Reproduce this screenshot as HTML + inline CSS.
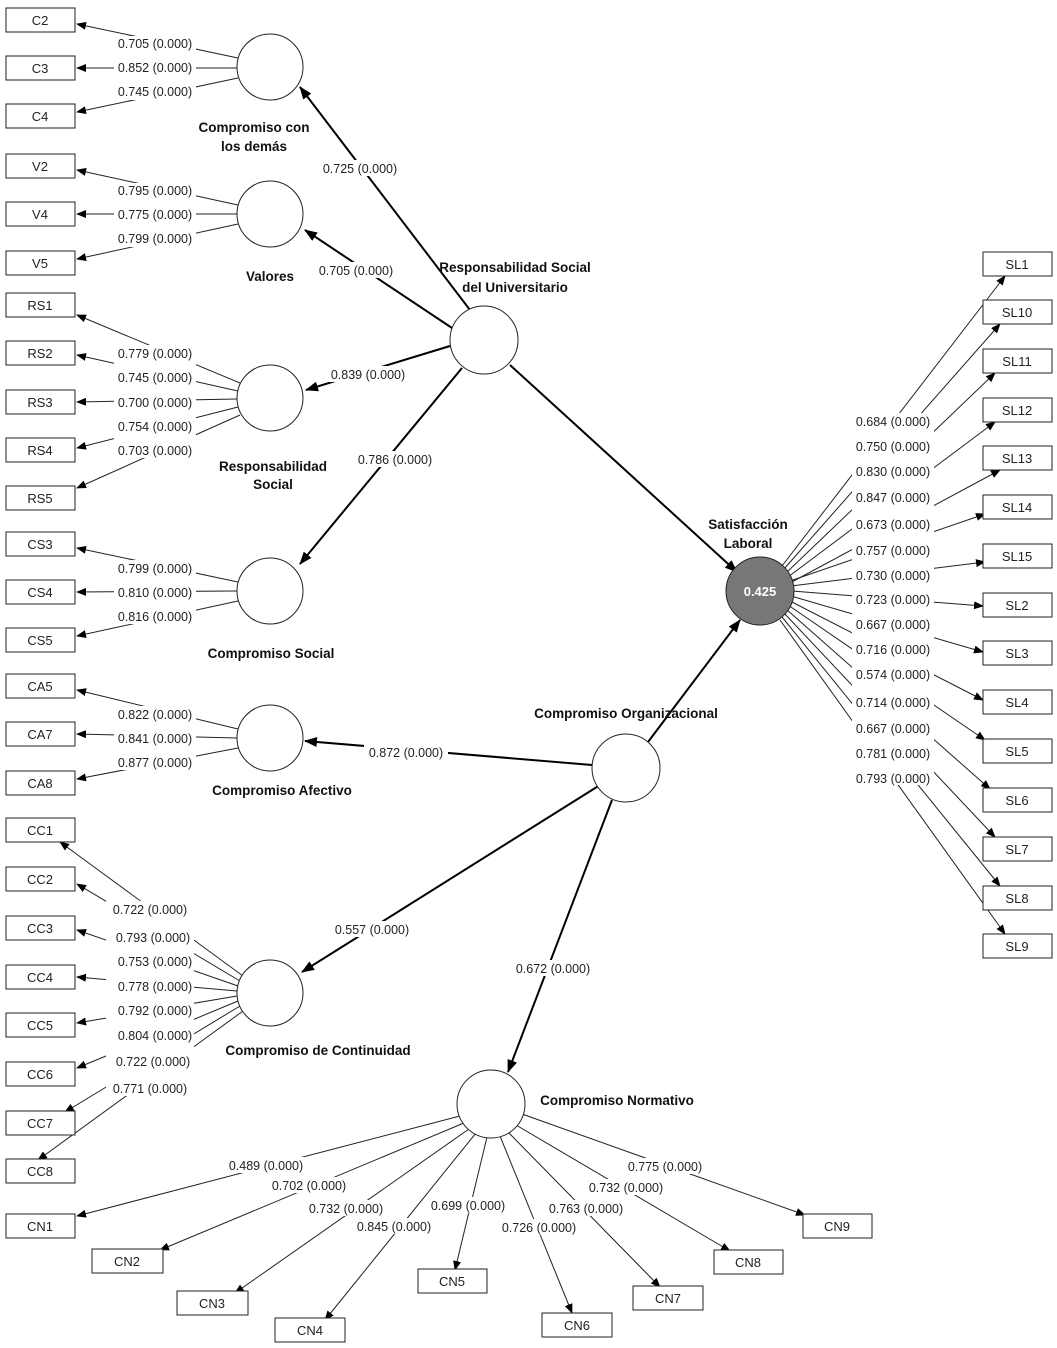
<!DOCTYPE html>
<html><head><meta charset="utf-8"><style>
html,body{margin:0;padding:0;background:#fff;}
svg{display:block;}
text{font-family:"Liberation Sans",sans-serif;}
.n{font-size:12.5px;fill:#222;text-anchor:middle;}
.b{font-size:13.5px;font-weight:bold;fill:#111;text-anchor:middle;}
.bx{font-size:13px;fill:#222;text-anchor:middle;}
</style></head><body>
<svg width="1057" height="1348" viewBox="0 0 1057 1348" xmlns="http://www.w3.org/2000/svg">
<defs>
<marker id="a" markerWidth="10" markerHeight="8" refX="9" refY="4" orient="auto" markerUnits="userSpaceOnUse"><path d="M0,0 L10,4 L0,8 z" fill="#000"/></marker>
<marker id="A" markerWidth="13" markerHeight="10" refX="12" refY="5" orient="auto" markerUnits="userSpaceOnUse"><path d="M0,0 L13,5 L0,10 z" fill="#000"/></marker>
</defs>
<g stroke="#222" stroke-width="1" fill="none" marker-end="url(#a)">
<!-- Compromiso con -->
<line x1="238" y1="58" x2="77" y2="24"/><line x1="237" y1="68" x2="77" y2="68"/><line x1="238" y1="78" x2="77" y2="112"/>
<!-- Valores -->
<line x1="238" y1="205" x2="77" y2="170"/><line x1="237" y1="214" x2="77" y2="214"/><line x1="238" y1="224" x2="77" y2="259"/>
<!-- RS -->
<line x1="240" y1="383" x2="77" y2="315"/><line x1="238" y1="391" x2="77" y2="355"/><line x1="237" y1="399" x2="77" y2="402"/><line x1="238" y1="407" x2="77" y2="448"/><line x1="240" y1="415" x2="77" y2="488"/>
<!-- CS -->
<line x1="238" y1="582" x2="77" y2="548"/><line x1="237" y1="591" x2="77" y2="592"/><line x1="238" y1="601" x2="77" y2="636"/>
<!-- CA -->
<line x1="238" y1="729" x2="77" y2="690"/><line x1="237" y1="738" x2="77" y2="734"/><line x1="238" y1="748" x2="77" y2="779"/>
<!-- CC -->
<line x1="243" y1="976" x2="60" y2="842"/><line x1="240" y1="981" x2="77" y2="884"/><line x1="238" y1="986" x2="77" y2="930"/><line x1="237" y1="991" x2="77" y2="977"/><line x1="237" y1="996" x2="77" y2="1023"/><line x1="238" y1="1001" x2="77" y2="1068"/><line x1="240" y1="1006" x2="65" y2="1112"/><line x1="243" y1="1011" x2="38" y2="1160"/>
<!-- SL -->
<line x1="782" y1="566" x2="1005" y2="276"/><line x1="784" y1="569" x2="1000" y2="324"/><line x1="786" y1="573" x2="995" y2="373"/><line x1="788" y1="577" x2="995" y2="422"/><line x1="790" y1="581" x2="985" y2="514"/><line x1="791" y1="586" x2="985" y2="562"/><line x1="792" y1="591" x2="983" y2="606"/><line x1="791" y1="596" x2="983" y2="652"/><line x1="790" y1="601" x2="983" y2="700"/><line x1="788" y1="605" x2="985" y2="740"/><line x1="786" y1="609" x2="990" y2="789"/><line x1="784" y1="613" x2="995" y2="837"/><line x1="782" y1="617" x2="1000" y2="886"/><line x1="780" y1="620" x2="1005" y2="934"/><line x1="790" y1="583" x2="1000" y2="470"/>
<!-- CN -->
<line x1="460" y1="1116" x2="77" y2="1216"/><line x1="464" y1="1123" x2="160" y2="1250"/><line x1="469" y1="1129" x2="235" y2="1293"/><line x1="476" y1="1133" x2="325" y2="1320"/><line x1="487" y1="1137" x2="455" y2="1270"/><line x1="500" y1="1136" x2="572" y2="1313"/><line x1="508" y1="1132" x2="660" y2="1287"/><line x1="516" y1="1125" x2="730" y2="1251"/><line x1="522" y1="1114" x2="805" y2="1215"/>
</g>
<g stroke="#000" stroke-width="2" fill="none" marker-end="url(#A)">
<line x1="470" y1="310" x2="300" y2="87"/>
<line x1="452" y1="328" x2="305" y2="230"/>
<line x1="450" y1="346" x2="306" y2="390"/>
<line x1="462" y1="368" x2="300" y2="564"/>
<line x1="510" y1="365" x2="737" y2="572"/>
<line x1="648" y1="742" x2="740" y2="620"/>
<line x1="592" y1="765" x2="305" y2="741"/>
<line x1="600" y1="785" x2="302" y2="972"/>
<line x1="612" y1="800" x2="508" y2="1072"/>
</g>
<!-- circles -->
<g stroke="#222" stroke-width="1" fill="#fff">
<circle cx="270" cy="67" r="33"/><circle cx="270" cy="214" r="33"/><circle cx="270" cy="398" r="33"/><circle cx="270" cy="591" r="33"/><circle cx="270" cy="738" r="33"/><circle cx="270" cy="993" r="33"/><circle cx="484" cy="340" r="34"/><circle cx="626" cy="768" r="34"/><circle cx="491" cy="1104" r="34"/>
<circle cx="760" cy="591" r="34" fill="#777"/>
</g>
<text x="760" y="596" font-size="13" font-weight="bold" fill="#fff" text-anchor="middle" font-family="Liberation Sans">0.425</text>
<!-- boxes -->
<g stroke="#222" stroke-width="1" fill="#fff">
<rect x="6" y="8" width="69" height="24"/><rect x="6" y="56" width="69" height="24"/><rect x="6" y="104" width="69" height="24"/>
<rect x="6" y="154" width="69" height="24"/><rect x="6" y="202" width="69" height="24"/><rect x="6" y="251" width="69" height="24"/>
<rect x="6" y="293" width="69" height="24"/><rect x="6" y="341" width="69" height="24"/><rect x="6" y="390" width="69" height="24"/><rect x="6" y="438" width="69" height="24"/><rect x="6" y="486" width="69" height="24"/>
<rect x="6" y="532" width="69" height="24"/><rect x="6" y="580" width="69" height="24"/><rect x="6" y="628" width="69" height="24"/>
<rect x="6" y="674" width="69" height="24"/><rect x="6" y="722" width="69" height="24"/><rect x="6" y="771" width="69" height="24"/>
<rect x="6" y="818" width="69" height="24"/><rect x="6" y="867" width="69" height="24"/><rect x="6" y="916" width="69" height="24"/><rect x="6" y="965" width="69" height="24"/><rect x="6" y="1013" width="69" height="24"/><rect x="6" y="1062" width="69" height="24"/><rect x="6" y="1111" width="69" height="24"/><rect x="6" y="1159" width="69" height="24"/>
<rect x="983" y="252" width="69" height="24"/><rect x="983" y="300" width="69" height="24"/><rect x="983" y="349" width="69" height="24"/><rect x="983" y="398" width="69" height="24"/><rect x="983" y="446" width="69" height="24"/><rect x="983" y="495" width="69" height="24"/><rect x="983" y="544" width="69" height="24"/><rect x="983" y="593" width="69" height="24"/><rect x="983" y="641" width="69" height="24"/><rect x="983" y="690" width="69" height="24"/><rect x="983" y="739" width="69" height="24"/><rect x="983" y="788" width="69" height="24"/><rect x="983" y="837" width="69" height="24"/><rect x="983" y="886" width="69" height="24"/><rect x="983" y="934" width="69" height="24"/>
<rect x="6" y="1214" width="69" height="24"/><rect x="92" y="1249" width="71" height="24"/><rect x="177" y="1291" width="71" height="24"/><rect x="275" y="1318" width="70" height="24"/><rect x="418" y="1269" width="69" height="24"/><rect x="542" y="1313" width="70" height="24"/><rect x="633" y="1286" width="70" height="24"/><rect x="714" y="1250" width="69" height="24"/><rect x="803" y="1214" width="69" height="24"/>
</g>
<g class="bx">
<text x="40" y="25">C2</text><text x="40" y="73">C3</text><text x="40" y="121">C4</text>
<text x="40" y="171">V2</text><text x="40" y="219">V4</text><text x="40" y="268">V5</text>
<text x="40" y="310">RS1</text><text x="40" y="358">RS2</text><text x="40" y="407">RS3</text><text x="40" y="455">RS4</text><text x="40" y="503">RS5</text>
<text x="40" y="549">CS3</text><text x="40" y="597">CS4</text><text x="40" y="645">CS5</text>
<text x="40" y="691">CA5</text><text x="40" y="739">CA7</text><text x="40" y="788">CA8</text>
<text x="40" y="835">CC1</text><text x="40" y="884">CC2</text><text x="40" y="933">CC3</text><text x="40" y="982">CC4</text><text x="40" y="1030">CC5</text><text x="40" y="1079">CC6</text><text x="40" y="1128">CC7</text><text x="40" y="1176">CC8</text>
<text x="1017" y="269">SL1</text><text x="1017" y="317">SL10</text><text x="1017" y="366">SL11</text><text x="1017" y="415">SL12</text><text x="1017" y="463">SL13</text><text x="1017" y="512">SL14</text><text x="1017" y="561">SL15</text><text x="1017" y="610">SL2</text><text x="1017" y="658">SL3</text><text x="1017" y="707">SL4</text><text x="1017" y="756">SL5</text><text x="1017" y="805">SL6</text><text x="1017" y="854">SL7</text><text x="1017" y="903">SL8</text><text x="1017" y="951">SL9</text>
<text x="40" y="1231">CN1</text><text x="127" y="1266">CN2</text><text x="212" y="1308">CN3</text><text x="310" y="1335">CN4</text><text x="452" y="1286">CN5</text><text x="577" y="1330">CN6</text><text x="668" y="1303">CN7</text><text x="748" y="1267">CN8</text><text x="837" y="1231">CN9</text>
</g>
<!-- label backgrounds -->
<g fill="#fff">
<rect x="114" y="36" width="82" height="64"/><rect x="114" y="183" width="82" height="64"/><rect x="114" y="345" width="82" height="113"/><rect x="114" y="560" width="82" height="64"/><rect x="114" y="706" width="82" height="64"/><rect x="106" y="901" width="88" height="195"/>
<rect x="852" y="413" width="82" height="372"/>
<rect x="318" y="160" width="84" height="16"/><rect x="314" y="262" width="84" height="16"/><rect x="326" y="366" width="84" height="16"/><rect x="353" y="451" width="84" height="16"/><rect x="364" y="744" width="84" height="16"/><rect x="330" y="921" width="84" height="16"/><rect x="511" y="960" width="84" height="16"/>
<rect x="224" y="1157" width="84" height="16"/><rect x="267" y="1177" width="84" height="16"/><rect x="304" y="1200" width="84" height="16"/><rect x="352" y="1218" width="84" height="16"/><rect x="426" y="1197" width="84" height="16"/><rect x="497" y="1219" width="84" height="16"/><rect x="544" y="1200" width="84" height="16"/><rect x="584" y="1179" width="84" height="16"/><rect x="623" y="1158" width="84" height="16"/>
</g>
<g class="n">
<text x="155" y="48">0.705 (0.000)</text><text x="155" y="72">0.852 (0.000)</text><text x="155" y="96">0.745 (0.000)</text>
<text x="155" y="195">0.795 (0.000)</text><text x="155" y="219">0.775 (0.000)</text><text x="155" y="243">0.799 (0.000)</text>
<text x="155" y="358">0.779 (0.000)</text><text x="155" y="382">0.745 (0.000)</text><text x="155" y="407">0.700 (0.000)</text><text x="155" y="431">0.754 (0.000)</text><text x="155" y="455">0.703 (0.000)</text>
<text x="155" y="573">0.799 (0.000)</text><text x="155" y="597">0.810 (0.000)</text><text x="155" y="621">0.816 (0.000)</text>
<text x="155" y="719">0.822 (0.000)</text><text x="155" y="743">0.841 (0.000)</text><text x="155" y="767">0.877 (0.000)</text>
<text x="150" y="914">0.722 (0.000)</text><text x="153" y="942">0.793 (0.000)</text><text x="155" y="966">0.753 (0.000)</text><text x="155" y="991">0.778 (0.000)</text><text x="155" y="1015">0.792 (0.000)</text><text x="155" y="1040">0.804 (0.000)</text><text x="153" y="1066">0.722 (0.000)</text><text x="150" y="1093">0.771 (0.000)</text>
<text x="893" y="426">0.684 (0.000)</text><text x="893" y="451">0.750 (0.000)</text><text x="893" y="476">0.830 (0.000)</text><text x="893" y="502">0.847 (0.000)</text><text x="893" y="529">0.673 (0.000)</text><text x="893" y="555">0.757 (0.000)</text><text x="893" y="580">0.730 (0.000)</text><text x="893" y="604">0.723 (0.000)</text><text x="893" y="629">0.667 (0.000)</text><text x="893" y="654">0.716 (0.000)</text><text x="893" y="679">0.574 (0.000)</text><text x="893" y="707">0.714 (0.000)</text><text x="893" y="733">0.667 (0.000)</text><text x="893" y="758">0.781 (0.000)</text><text x="893" y="783">0.793 (0.000)</text>
<text x="360" y="173">0.725 (0.000)</text><text x="356" y="275">0.705 (0.000)</text><text x="368" y="379">0.839 (0.000)</text><text x="395" y="464">0.786 (0.000)</text><text x="406" y="757">0.872 (0.000)</text><text x="372" y="934">0.557 (0.000)</text><text x="553" y="973">0.672 (0.000)</text>
<text x="266" y="1170">0.489 (0.000)</text><text x="309" y="1190">0.702 (0.000)</text><text x="346" y="1213">0.732 (0.000)</text><text x="394" y="1231">0.845 (0.000)</text><text x="468" y="1210">0.699 (0.000)</text><text x="539" y="1232">0.726 (0.000)</text><text x="586" y="1213">0.763 (0.000)</text><text x="626" y="1192">0.732 (0.000)</text><text x="665" y="1171">0.775 (0.000)</text>
</g>
<g class="b">
<text x="254" y="132">Compromiso con</text><text x="254" y="151">los demás</text>
<text x="270" y="281">Valores</text>
<text x="515" y="272">Responsabilidad Social</text><text x="515" y="292">del Universitario</text>
<text x="273" y="471">Responsabilidad</text><text x="273" y="489">Social</text>
<text x="271" y="658">Compromiso Social</text>
<text x="282" y="795">Compromiso Afectivo</text>
<text x="318" y="1055">Compromiso de Continuidad</text>
<text x="626" y="718">Compromiso Organizacional</text>
<text x="748" y="529">Satisfacción</text><text x="748" y="548">Laboral</text>
<text x="617" y="1105">Compromiso Normativo</text>
</g>
</svg>
</body></html>
